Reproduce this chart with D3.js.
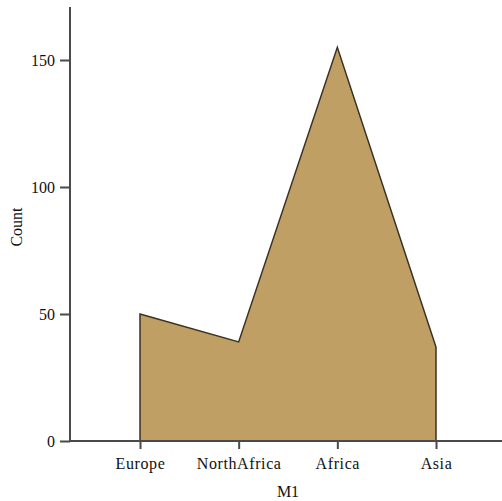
<!DOCTYPE html>
<html><head><meta charset="utf-8">
<script src="https://cdn.jsdelivr.net/npm/d3@7"></script>
<style>
html,body{margin:0;padding:0;background:#fff;}
svg{display:block;}
text{font-family:"Liberation Serif","Times New Roman",serif;}
</style></head>
<body>
<svg id="chart" width="502" height="501"></svg>
<script>
const categories = ["Europe", "NorthAfrica", "Africa", "Asia"];
const counts = [50, 39, 155, 37];
const yTicks = [0, 50, 100, 150];
const xTitle = "M1";
const yTitle = "Count";

const data = categories.map((c, i) => ({cat: c, v: counts[i]}));
const svg = d3.select("#chart");
const axisX0 = 70, axisRight = 502, axisTop = 7, axisBottom = 441;

const x = d3.scalePoint().domain(categories).range([140, 436]);
const y = d3.scaleLinear().domain([0, 150]).range([axisBottom, 60]);

const area = d3.area().x(d => x(d.cat)).y0(y(0)).y1(d => y(d.v));
svg.append("path").datum(data)
  .attr("d", area)
  .attr("fill", "#bf9f63")
  .attr("stroke", "#3b3122")
  .attr("stroke-width", 1.5)
  .attr("stroke-linejoin", "miter");

const axisColor = "#4a4a4a";
// y axis
const gy = svg.append("g").attr("transform", `translate(${axisX0},0)`)
  .call(d3.axisLeft(y).tickValues(yTicks).tickSize(10).tickPadding(5).tickFormat(d3.format("d")));
gy.select(".domain").remove();
gy.append("line").attr("x1", 0).attr("x2", 0).attr("y1", axisTop).attr("y2", axisBottom)
  .attr("stroke", axisColor).attr("stroke-width", 2);
gy.selectAll(".tick line").attr("stroke", axisColor).attr("stroke-width", 2);
gy.selectAll(".tick text").attr("fill", "#111").style("font-size", "16px")
  .attr("font-family", null);

// x axis
const gx = svg.append("g").attr("transform", `translate(0,${axisBottom})`)
  .call(d3.axisBottom(x).tickSize(8).tickPadding(9));
gx.select(".domain").remove();
gx.append("line").attr("x1", axisX0).attr("x2", axisRight).attr("y1", 0).attr("y2", 0)
  .attr("stroke", axisColor).attr("stroke-width", 2);
gx.selectAll(".tick line").attr("stroke", axisColor).attr("stroke-width", 2);
gx.selectAll(".tick text").attr("fill", "#111").style("font-size", "16px")
  .attr("font-family", null).attr("letter-spacing", "0.6");

svg.append("text").attr("x", 288).attr("y", 497).attr("text-anchor", "middle")
  .attr("fill", "#111").style("font-size", "16px").text(xTitle);
svg.append("text").attr("transform", "translate(22,227) rotate(-90)").attr("text-anchor", "middle")
  .attr("fill", "#111").style("font-size", "16px").text(yTitle);
</script>
</body></html>
